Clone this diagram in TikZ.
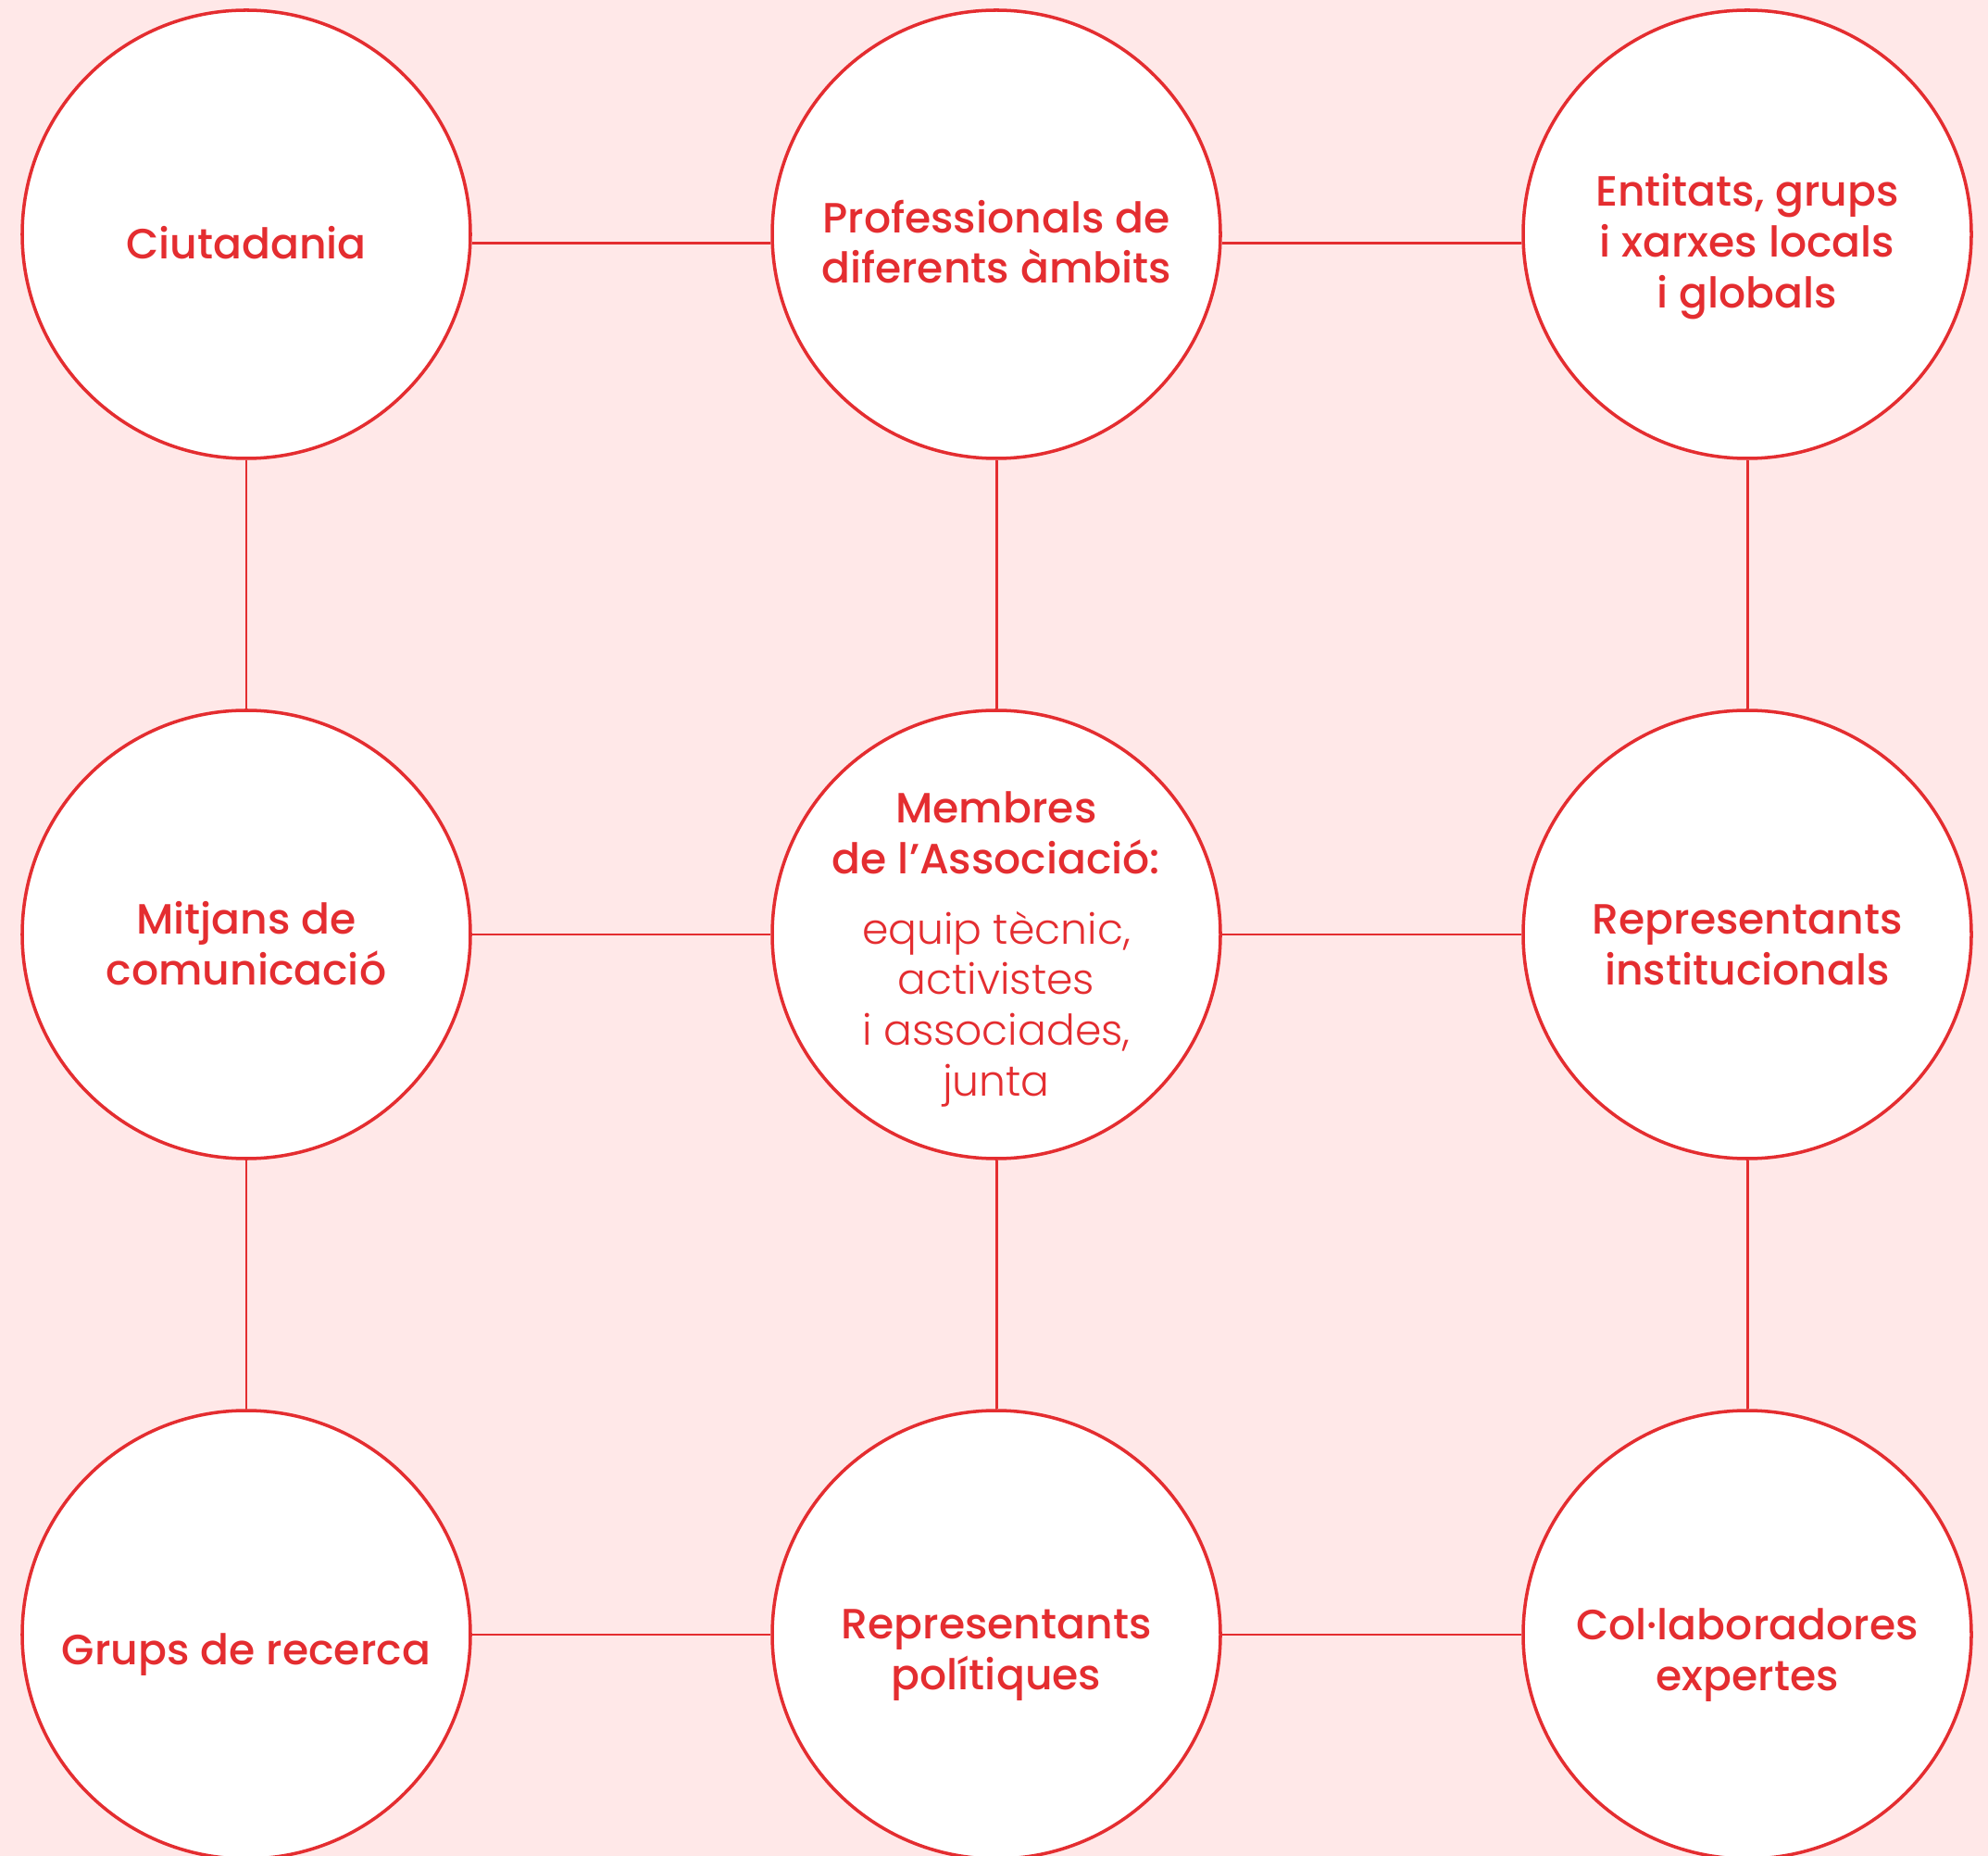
\documentclass[tikz,border=0pt]{standalone}
\usepackage{fontspec}
\setmainfont{Poppins}
\newfontfamily\medfont{Poppins Medium}
\newfontfamily\lightfont{Poppins Light}
\definecolor{roig}{HTML}{E42D30}
\definecolor{rosa}{HTML}{FFE8E8}
\tikzset{
  cercle/.style={circle, draw=roig, line width=1pt, fill=white,
    minimum size=4.84cm, inner sep=0pt},
  etiqueta/.style={text=roig, align=center,
    font=\medfont\fontsize{13}{15.6}\selectfont},
}
\begin{document}
\begin{tikzpicture}
  \fill[rosa] (0,0) rectangle (21.47,-20.04);
  \useasboundingbox (0,0) rectangle (21.47,-20.04);
  \draw
    (2.66,-2.53) node[cercle] (ciu){}
    (10.76,-2.53) node[cercle] (pro){}
    (18.87,-2.53) node[cercle] (ent){}
    (2.66,-10.09) node[cercle] (mit){}
    (10.76,-10.09) node[cercle] (mem){}
    (18.87,-10.09) node[cercle] (ins){}
    (2.66,-17.65) node[cercle] (gru){}
    (10.76,-17.65) node[cercle] (pol){}
    (18.87,-17.65) node[cercle] (col){};
  \begin{scope}[roig, line width=0.85pt]
    \draw ([yshift=-1mm]ciu.east) to ([yshift=-1mm]pro.west);
    \draw ([yshift=-1mm]pro.east) to ([yshift=-1mm]ent.west);
    \draw (mit) to (mem);
    \draw (mem) to (ins);
    \draw (gru) to (pol);
    \draw (pol) to (col);
    \draw (ciu) to (mit);
    \draw (mit) to (gru);
    \draw (pro) to (mem);
    \draw (mem) to (pol);
    \draw (ent) to (ins);
    \draw (ins) to (col);
  \end{scope}
  % textos
  \node[etiqueta] (tciu) at (2.66,-2.62) {Ciutadania};
  \node[etiqueta] (tpro) at (10.76,-2.61) {Professionals de\\diferents àmbits};
  \node[etiqueta] (tent) at (18.87,-2.66) {Entitats, grups\\i xarxes locals\\i globals};
  \node[etiqueta] (tmit) at (2.66,-10.19) {Mitjans de\\comunicació};
  \node[etiqueta] (tmem) at (10.76,-10.25) {Membres\\de l’Associació:\\[0.21cm]
    {\lightfont equip tècnic,}\\{\lightfont activistes}\\{\lightfont i associades,}\\{\lightfont junta}};
  \node[etiqueta] (tins) at (18.87,-10.20) {Representants\\institucionals};
  \node[etiqueta] (tgru) at (2.66,-17.87) {Grups de recerca};
  \node[etiqueta] (tpol) at (10.76,-17.87) {Representants\\polítiques};
  \node[etiqueta] (tcol) at (18.87,-17.87) {Col·laboradores\\expertes};
\end{tikzpicture}
\end{document}
